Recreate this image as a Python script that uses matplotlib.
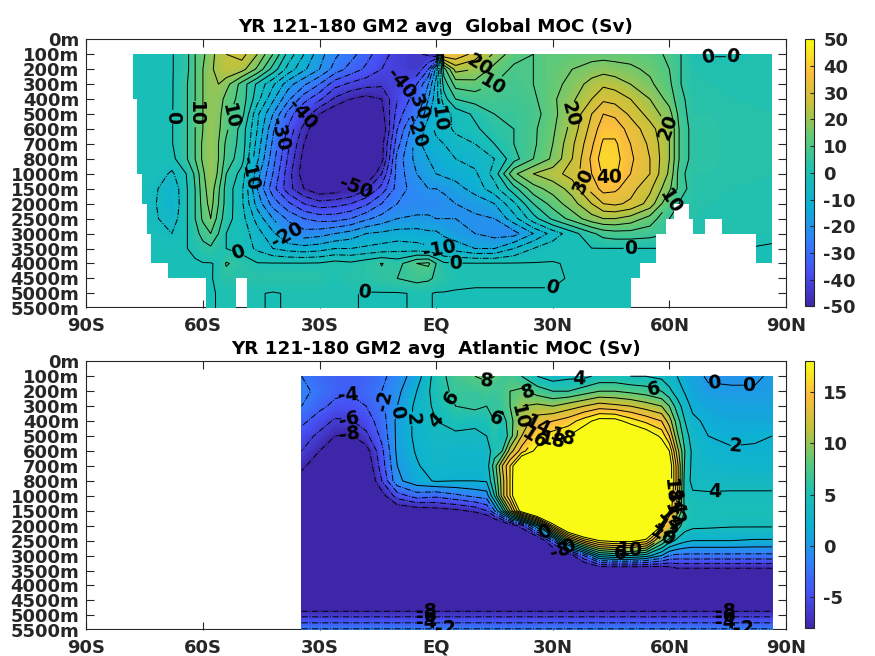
import numpy as np
import matplotlib
matplotlib.use("Agg")
import matplotlib.pyplot as plt
from matplotlib.colors import LinearSegmentedColormap, Normalize
from matplotlib.cm import ScalarMappable
from matplotlib.path import Path

plt.rcParams['font.family'] = 'DejaVu Sans'
plt.rcParams['font.weight'] = 'bold'
plt.rcParams['axes.unicode_minus'] = False
plt.rcParams['text.color'] = '#262626'

# axis labels, y axis is index based (not linear in depth)
depth_labels = ['0m', '100m', '200m', '300m', '400m', '500m', '600m', '700m', '800m', '1000m',
                '1500m', '2000m', '2500m', '3000m', '3500m', '4000m', '4500m', '5000m', '5500m']
lat_ticks = [-90, -60, -30, 0, 30, 60, 90]
lat_labels = ['90S', '60S', '30S', 'EQ', '30N', '60N', '90N']
rows = list(range(1, 19))

# Global MOC (Sv), one list per depth row
global_lats = [-78.1, -72, -68, -64, -62, -60, -58, -56, -54,
               -50, -46, -42, -38, -34, -30, -26, -22, -18, -14,
               -10, -5, -2, 0, 2, 5, 10, 15, 20, 25,
               30, 35, 40, 43, 46, 50, 55, 60,
               63, 66, 70, 76, 86.4]
global_moc = [
    [-.5, -.5, -.4, 4, 10, 14, 18, 22, 25, 27, 20, 10, -2, -10, -18, -24, -28, -33, -38,
     -42, -44, -46, -50, 35, 34, 28, 19, 12, 10, 13, 13, 13, 13, 13, 13, 12, 9, 5, .8, -.3, -.3, 1],
    [-.5, -.5, -.4, 4, 10, 15, 19, 22, 24, 22, 14, 3, -7, -14, -20, -27, -32, -36, -40,
     -42, -44, -35, -18, 8, 22, 20, 13, 9, 10, 13, 15, 17, 18, 17, 16, 14, 10, 5, 2, 1.5, 1.5, 2],
    [-.5, -.5, -.4, 5, 10, 15, 19, 20, 17, 8, -1, -9, -18, -24, -30, -38, -41, -43, -44,
     -41, -35, -25, -13, 2, 12, 13, 10, 8, 10, 13, 17, 22, 24, 23, 20, 16, 11, 5, 2.5, 2, 2, 2],
    [-.5, -.5, -.4, 5, 10, 15, 19, 18, 13, 8, -3, -14, -24, -33, -39, -46, -50, -52, -50,
     -40, -32, -20, -12, -2, 5, 7, 8, 7, 9, 14, 19, 25, 29, 28, 25, 20, 13, 6, 3, 2.5, 2, 2],
    [-.5, -.5, -.3, 5, 10, 15, 19, 17, 11, 7, -9, -20, -32, -41, -50, -55, -58, -58, -52,
     -38, -27, -16, -11, -8, -3, 1, 5, 6, 8, 13, 21, 30, 35, 34, 29, 23, 17, 7, 3, 3, 2.5, 2],
    [-.5, -.5, -.3, 5, 10, 15, 19.5, 16, 11, 3, -10, -24, -36, -47, -56, -60, -62, -60, -55,
     -35, -20, -12, -9, -7, -4, -1, 3, 5, 9, 14, 22, 32, 38, 38, 33, 27, 20, 8, 3.5, 3.5, 2.5, 2],
    [-.5, -.5, -.3, 5, 10, 16, 19.5, 15, 9, 3, -12, -26, -39, -50, -60, -62, -64, -62, -52,
     -32, -17, -12, -11, -10, -7, -5, 0, 5, 9, 15, 24, 34, 41, 41, 35, 29, 20, 8, 3.5, 3.5, 2.5, 2],
    [-1, -1, -1.5, 5, 10, 16, 19.5, 15, 8, 2, -14, -28, -41, -52, -62, -65, -66, -64, -52,
     -28, -18, -15, -14, -12, -10, -8, -5, 3, 10, 16, 25, 36, 43, 42, 36, 30, 20, 8, 3.5, 3.5, 2.5, 2],
    [-.5, -2, -6, .5, 6, 14, 19.5, 14, 5, -2, -18, -30, -43, -53, -62, -65, -65, -58, -45,
     -28, -20, -17, -15, -14, -13, -11, -3, 14, 20, 23, 27, 35, 41, 41, 35, 30, 19, 6, 3, 3, 2.5, 2],
    [-.5, -4.5, -9, 0, 5, 13, 18, 11, 3, -4, -20, -33, -43, -50, -54, -53, -51, -46, -38,
     -28, -22, -20, -20, -19, -17, -13, -7, 3, 13, 17, 22, 32, 37, 36, 32, 26, 16, 7, 3, 2.5, 2, 2],
    [-.5, -5, -9.5, 0, 5, 12, 17, 10, 3, -4, -17, -27, -34, -40, -43, -42, -40, -36, -30,
     -25, -23, -23, -23, -22, -20, -18, -15, -6, 5, 12, 18, 25, 30, 31, 29, 23, 10, 4, 3, 2, 2, 2],
    [-.5, -4.5, -8, 0, 5, 11, 15, 8, 2, -3, -12, -20, -26, -30, -32, -32, -30, -26, -23,
     -20, -19, -19, -20, -20, -20, -21, -20, -12, -2, 6, 12, 18, 20, 20, 18, 13, 5, 2, 2, 1.5, 1.5, 1.5],
    [-.5, -2, -5, 0, 3, 7, 10, 5, 0, -2, -8, -14, -21, -23, -22, -20, -18, -15, -14,
     -13, -13, -14, -14, -16, -18, -20, -22, -22, -15, -8, -2, 4, 7, 8, 8, 7, 5, 1, 1, 1, 1, 1],
    [-.5, -.5, -1, 0, 1, 3, 4, 2, 0, -2, -6, -10, -12, -13, -12, -10, -10, -9, -8,
     -7, -8, -9, -10, -11, -12, -15, -15, -10, -5, -2, -.1, -.1, -.1, -.1, -.1, -.1, -.1, -.1, -.1, -.1, .2, -.5],
    [-.5, -.5, -.5, -.5, -.5, -.2, -.2, .5, 5.5, 3, .3, .3, .3, .3, .5, 2, 1, 3, 5.2,
     3, 10, 11, 5, .8, .3, .3, .3, .3, .3, .3, -.5, -.5, -.5, -.5, -.5, -.5, -.5, -.5, -.5, -.5, -.5, -.5],
    [-.5, -.5, -.5, -.5, -.5, -.5, -.5, 1.5, 3, 3, 2.5, 3, 3, 3, 3, .4, 3, 3, 4,
     5, 7, 6, 4, 3, 1, .5, .5, .5, .5, .5, -.3, -.3, -.3, -.3, -.3, -.3, -.3, -.3, -.3, -.3, -.3, -.3],
    [-.5, -.5, -.5, -.5, -.5, -.5, -.5, .3, .3, .3, .3, -.3, .3, .3, .3, .3, .3, -.3, -.3,
     -.3, .3, .3, -.3, -.3, -.3, -.3, -.3, -.3, -.3, -.3, -.3, -.3, -.3, -.3, -.3, -.3, -.3, -.3, -.3, -.3, -.3, -.3],
    [-.5, -.5, -.5, -.5, -.5, -.5, -.5, .3, .3, .3, .3, -.3, .3, .3, .3, .3, .3, -.3, -.3,
     -.3, .3, .3, -.3, -.3, -.3, -.3, -.3, -.3, -.3, -.3, -.3, -.3, -.3, -.3, -.3, -.3, -.3, -.3, -.3, -.3, -.3, -.3],
]

# Global field only exists over ocean: (top row, bottom row, west lat, east lat)
ocean_top = [1, 4, 9, 11, 11, 12, 12, 12, 13, 13, 15, 16, 16]
ocean_bot = [4, 9, 11, 12, 12, 13, 13, 13, 15, 15, 16, 18, 18]
ocean_west = [-78.1, -76.9, -75.6, -74.5, 65, -74.5, 66, 73.5, -73.3, 82.3, -68.9, -59.1, -48.6]
ocean_east = [86.4, 86.4, 86.4, 61.2, 86.4, 59.2, 69.2, 86.4, 56.6, 86.4, 52.4, -51.4, 50.1]

# Atlantic MOC (Sv)
atl_lats = [-34.6, -30, -26, -22, -18, -14, -10, -5, 0, 5,
            10, 13, 15, 17, 19, 22, 26, 30, 34, 38,
            42, 46, 50, 54, 58, 60, 62, 64, 66,
            70, 76, 82, 86.4]
atl_moc = [
    [-2, -3, -3.5, -3.5, -3.5, -2.5, -1, 1, 5, 7, 8, 8.5, 8, 7, 7, 6, 4, 3, 3.5, 3.5,
     4.5, 4.5, 4, 4, 3.5, 2.8, 2, 1.2, .8, -.3, -.3, -.3, .3],
    [-1.5, -2.5, -3.5, -3.8, -3.2, -2, -.5, 2, 5, 6.5, 6.5, 7, 6.5, 7, 8, 8.5, 7, 6, 6, 7,
     8, 8, 7.5, 7, 6, 4.5, 3, 1.8, 1, .4, .2, .2, .5],
    [-2, -3.5, -4.5, -4.6, -4, -2.5, 0, 2.5, 4.5, 6, 6.5, 6, 6.5, 6.5, 8, 10, 10.5, 10, 11, 12,
     13, 12.5, 12, 11, 10, 8, 5, 3, 1.5, 1, .8, .8, .8],
    [-3.5, -5, -6.3, -6.2, -5, -3, .5, 2.5, 4, 5, 4.5, 5, 6, 5, 7, 11, 13, 14, 15, 17,
     19, 19, 17, 15.5, 14, 11, 7, 4, 2.5, 1.5, 1.2, 1.2, 1.2],
    [-5, -6.5, -8, -8.3, -6.5, -3.5, .5, 2.5, 3.5, 3.5, 3.5, 4, 5.5, 4, 7, 12, 16, 17, 18, 20,
     24, 24, 22, 20, 17.5, 14, 8.5, 5, 3, 2, 1.6, 1.8, 2],
    [-6, -8, -10, -10, -9, -4.5, .5, 2.2, 3.2, 3, 3, 3, 5, 6, 11, 15, 19, 20, 23, 26,
     30, 30, 28, 25, 20, 18, 11, 6, 3.5, 2.5, 2.2, 2.2, 2.2],
    [-7.5, -9.5, -11, -11, -10, -5, 0, 1.8, 3, 2.8, 2.8, 3, 7, 12, 16, 24, 28, 30, 30, 33,
     34, 34, 32, 30, 27, 20, 13, 5.5, 3.5, 3, 2.8, 2.7, 2.7],
    [-9, -11, -12, -12, -11, -6, -.5, 1.3, 2.2, 2, 2, 2.2, 6, 11, 16, 25, 30, 33, 34, 35,
     35, 35, 35, 33, 30, 20, 13, 5, 3.5, 3.5, 3.4, 3.4, 3.4],
    [-12, -12, -12, -12, -12, -9, -5, -3, -3.5, -2.5, -1.5, -1, 4, 11, 16, 25, 30, 33, 34, 35,
     35, 35, 35, 33, 28, 19, 12, 5, 4.3, 4.2, 4.3, 4.3, 4.3],
    [-14, -14, -14, -14, -14, -12, -10, -9.5, -9, -8.5, -7.5, -6, -2, 3, 10, 20, 28, 32, 34, 35,
     35, 35, 35, 33, 26, 18, 11, 5.5, 5, 4.8, 4.6, 4.6, 4.6],
    [-14, -14, -14, -14, -14, -14, -14, -14, -14, -14, -13, -13, -13, -12, -10, -7, 2, 16, 26, 31,
     33, 33, 33, 28, 18, 12, 7, 5, 4.5, 4.4, 4.2, 4.2, 4.2],
    [-14, -14, -14, -14, -14, -14, -14, -14, -14, -14, -14, -14, -14, -14, -14, -13, -12, -4, 8, 14,
     18, 19, 19, 17, 8, 5, 3.5, 2.5, 2, 2, 2, 1.8, 1.8],
    [-14, -14, -14, -14, -14, -14, -14, -14, -14, -14, -14, -14, -14, -14, -14, -14, -14, -13, -10, -4,
     3, 4, 4, 3, 0, -2, -2.5, -2.5, -2.5, -2.5, -2.5, -2.5, -2.5],
    [-14, -14, -14, -14, -14, -14, -14, -14, -14, -14, -14, -14, -14, -14, -14, -14, -14, -14, -14, -13,
     -12, -12, -12, -12, -11, -10, -9, -9, -9, -9, -9, -9, -9],
    [-14] * 33,
    [-12] * 33,
    [-6.5] * 33,
    [-1.5] * 33,
]

# contour label spots (lat, row index)
global_label_lat = [-66.3, -62, -52.6, -48.6, -41, -34.7, -21.6, -9, -5.6, -4.4, 1.3, 11, 15.3, 33, 39, 44.5,
                    59, 61, 69, 77, -38.6, 1, 5, -50.6, -18.6, 29.8, 50]
global_label_row = [5.2, 5, 5.2, 8.9, 6.3, 5, 9.3, 3, 4.2, 6.2, 5, 1.7, 3.6, 4.9, 9.3, 9.5,
                    6, 11, 2, 1.9, 13.2, 13.9, 15.2, 14, 16.7, 16.9, 14]
atl_label_lat = [-22.4, -22.4, -22.4, -14.8, -11.2, -7.8, -1.4, 2.4, 13, 15.3, 23.5, 21.8, 26, 25, 30, 33,
                 36.8, 56, 77, 71.7, 71.5, 80.5, 79, 74.4, 74.4, 74.4, -2.5, -2.5, -2.5, 2.4,
                 27.8, 32, 34, 47.5, 50, 60, 61, 61, 60, 59, 58]
atl_label_row = [2.6, 3.8, 4.8, 2.8, 3.3, 3.8, 4.2, 2.8, 1.6, 3.8, 2.2, 3.8, 4.1, 5, 5.3, 5.7,
                 1.4, 2.1, 5.2, 8.3, 1.9, 1.8, 17.9, 17.4, 17, 16.7, 16.6, 17, 17.4, 17.9,
                 11.5, 12.6, 12.4, 12.9, 12.6, 8.7, 9.5, 10.2, 10.7, 11.2, 11.6]

# parula like colours
parula = LinearSegmentedColormap.from_list('parula', [
    (0.2422, 0.1504, 0.6603), (0.2790, 0.3060, 0.9500), (0.1900, 0.5100, 0.9770),
    (0.0500, 0.6900, 0.8300), (0.1000, 0.7500, 0.7100), (0.3600, 0.7900, 0.4800),
    (0.7600, 0.7600, 0.2300), (0.9900, 0.7400, 0.2400), (0.9769, 0.9839, 0.0805)], N=256)

W, H = 875, 656
fig = plt.figure(figsize=(W / 100, H / 100), dpi=100)


def draw_lines(ax, x, y, z, levels, clip):
    styles = ['-.' if lev < 0 else '-' for lev in levels]
    cs = ax.contour(x, y, z, levels=levels, colors='k', linewidths=0.7, linestyles=styles)
    if clip is not None:
        cs.set_clip_path(clip, transform=ax.transData)
    return cs


def panel(top_px, lats, field, clim, label_levels, other_levels, label_lat, label_row, title, cbar_ticks, step, clip=None):
    ax = fig.add_axes([86.3 / W, 1 - (top_px + 269) / H, 699.7 / W, 269 / H])
    x, y = np.array(lats), np.array(rows)
    z = np.array(field, dtype=float)
    fill_levels = np.arange(clim[0], clim[1] + step / 2, step)
    cf = ax.contourf(x, y, z, levels=fill_levels, cmap=parula, norm=Normalize(*clim), extend='both')
    if clip is not None:
        cf.set_clip_path(clip, transform=ax.transData)
    if len(other_levels):
        draw_lines(ax, x, y, z, other_levels, clip)
    # labelled levels get their own contour set, clabel(levels=...) with manual spots trips otherwise
    cs = draw_lines(ax, x, y, z, label_levels, clip)
    ax.clabel(cs, fmt='%d', fontsize=13.5, inline_spacing=1,
              manual=list(zip(label_lat, label_row)), colors='k')

    ax.set_xlim(-90, 90)
    ax.set_ylim(18, 0)
    ax.set_xticks(lat_ticks)
    ax.set_xticklabels(lat_labels)
    ax.set_yticks(range(19))
    ax.set_yticklabels(depth_labels)
    ax.tick_params(direction='in', length=6, width=0.8, labelsize=13, top=True, right=True,
                   color='#262626', labelcolor='#262626', pad=6)
    ax.tick_params(axis='y', pad=5)
    ax.yaxis.get_major_ticks()[-1].tick1line.set_visible(False)
    ax.yaxis.get_major_ticks()[-1].tick2line.set_visible(False)
    ax.yaxis.get_major_ticks()[0].tick1line.set_visible(False)
    ax.yaxis.get_major_ticks()[0].tick2line.set_visible(False)
    ax.set_axisbelow(True)
    # the field hangs a little below the box, so the bottom frame line is at 17.9
    ax.spines['bottom'].set_visible(False)
    ax.spines['left'].set_bounds(0, 17.9)
    ax.spines['right'].set_bounds(0, 17.9)
    for s in ax.spines.values():
        s.set_color('#262626')
    ax.hlines(17.9, -90, 90, color='#262626', lw=0.8, zorder=0.5)
    ax.set_title(title, fontsize=13.2, fontweight='bold', pad=5, color='k')

    cax = fig.add_axes([805 / W, 1 - (top_px + 267) / H, 8.7 / W, 267 / H])
    cb = fig.colorbar(ScalarMappable(Normalize(*clim), parula), cax=cax)
    cb.set_ticks(cbar_ticks)
    cb.set_ticklabels([str(t) for t in cbar_ticks])
    cax.tick_params(direction='in', length=3, width=0.8, labelsize=13, labelcolor='#262626', color='#262626', pad=7)
    cb.outline.set_edgecolor('#262626')
    cb.outline.set_linewidth(0.8)
    return ax


ocean = Path.make_compound_path(*[
    Path([(w, t), (e, t), (e, b), (w, b), (w, t)], closed=True)
    for t, b, w, e in zip(ocean_top, ocean_bot, ocean_west, ocean_east)])

panel(39.3, global_lats, global_moc, (-50, 50), np.arange(-50, 51, 10), np.arange(-45, 50, 10),
      global_label_lat, global_label_row, 'YR 121-180 GM2 avg  Global MOC (Sv)',
      [-50, -40, -30, -20, -10, 0, 10, 20, 30, 40, 50], 1, clip=ocean)
panel(361.3, atl_lats, atl_moc, (-8, 18), np.arange(-8, 19, 2), [],
      atl_label_lat, atl_label_row, 'YR 121-180 GM2 avg  Atlantic MOC (Sv)',
      [-5, 0, 5, 10, 15], 0.25)

fig.savefig('out.png', dpi=100)
